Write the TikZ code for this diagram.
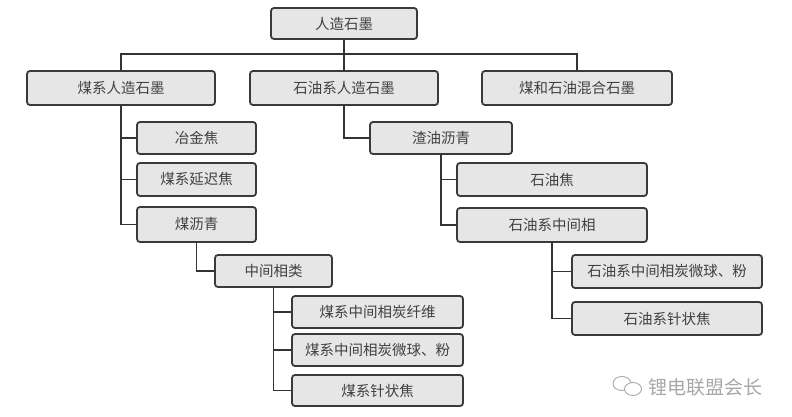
\documentclass[tikz,border=0pt]{standalone}
\usepackage{fontspec}
\setmainfont{Noto Sans CJK SC}
\definecolor{boxfill}{HTML}{E6E6E6}
\definecolor{boxline}{HTML}{3A3A3A}
\definecolor{txt}{HTML}{404040}
\definecolor{linkc}{HTML}{333333}
\definecolor{wm}{HTML}{A8A8A8}
\begin{document}
\begin{tikzpicture}[x=1pt,y=-1pt,
  box/.style={draw=boxline, fill=boxfill, line width=1.8pt, rounded corners=3pt,
    inner sep=0pt, font=\fontsize{14.5}{16}\selectfont, text=txt},
  link/.style={draw=linkc, line width=1.8pt}]
\useasboundingbox[fill=white] (0,0) rectangle (792,417);
% level 0/1
\node[box, minimum width=146pt, minimum height=31pt] (top) at (344,23.5) {人造石墨};
\node[box, minimum width=188pt, minimum height=34pt] (coal) at (121,88) {煤系人造石墨};
\node[box, minimum width=188pt, minimum height=34pt] (pet) at (344,88) {石油系人造石墨};
\node[box, minimum width=190pt, minimum height=34pt] (mix) at (577,88) {煤和石油混合石墨};
% coal branch
\node[box, minimum width=119pt, minimum height=32pt] (c1) at (196.5,138) {冶金焦};
\node[box, minimum width=119pt, minimum height=33pt] (c2) at (196.5,179.5) {煤系延迟焦};
\node[box, minimum width=119pt, minimum height=35pt] (c3) at (196.5,224.5) {煤沥青};
\node[box, minimum width=117pt, minimum height=32pt] (zj) at (273.5,271) {中间相类};
\node[box, minimum width=171pt, minimum height=32pt] (m1) at (377.5,312) {煤系中间相炭纤维};
\node[box, minimum width=171pt, minimum height=32pt] (m2) at (377.5,350) {煤系中间相炭微球、粉};
\node[box, minimum width=171pt, minimum height=31pt] (m3) at (377.5,390.5) {煤系针状焦};
% petroleum branch
\node[box, minimum width=142pt, minimum height=32pt] (p1) at (441,138) {渣油沥青};
\node[box, minimum width=190pt, minimum height=33pt] (p2) at (552,179.5) {石油焦};
\node[box, minimum width=190pt, minimum height=34pt] (p3) at (552,225) {石油系中间相};
\node[box, minimum width=190pt, minimum height=33pt] (q1) at (667,271.5) {石油系中间相炭微球、粉};
\node[box, minimum width=190pt, minimum height=33pt] (q2) at (667,318.5) {石油系针状焦};
% connectors
\coordinate (bus) at (344,54);
\draw[link] (top.south) -- (pet.north);
\draw[link] (coal.north) |- (bus) -| (mix.north);
\draw[link] (coal.south) |- (c1.west);
\draw[link] (coal.south) |- (c2.west);
\draw[link] (coal.south) |- (c3.west);
\draw[link] (c3.south) |- (zj.west);
\draw[link] (zj.south) |- (m1.west);
\draw[link] (zj.south) |- (m2.west);
\draw[link] (zj.south) |- (m3.west);
\draw[link] (pet.south) |- (p1.west);
\draw[link] (p1.south) |- (p2.west);
\draw[link] (p1.south) |- (p3.west);
\draw[link] (p3.south) |- (q1.west);
\draw[link] (p3.south) |- (q2.west);
% watermark
\draw[wm, line width=0.9pt] (622,383.5) ellipse [x radius=9pt, y radius=7pt];
\draw[wm, line width=0.9pt, fill=white] (633,389) ellipse [x radius=8.5pt, y radius=6.5pt];
\node[font=\fontsize{19}{21}\selectfont, text=wm, anchor=west, inner sep=0pt] (wmtext) at (648,387) {锂电联盟会长};
\end{tikzpicture}
\end{document}
